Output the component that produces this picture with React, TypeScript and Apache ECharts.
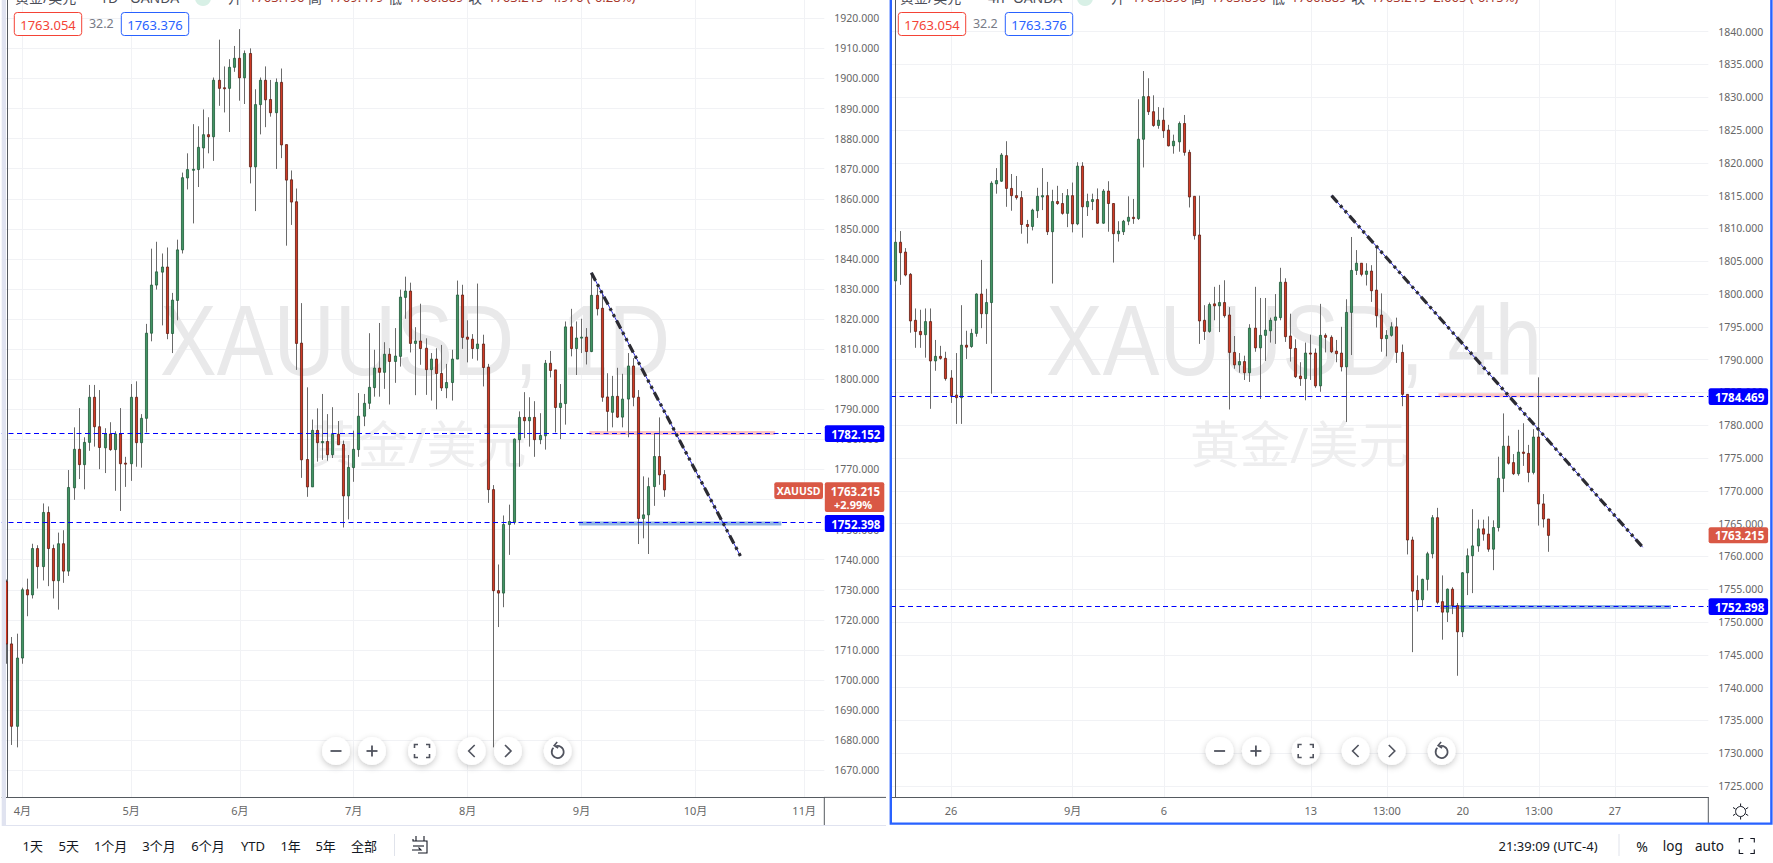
import React, { useEffect, useRef } from "react";
import * as echarts from "echarts";

// Daily candles: [open, close, low, high]
const dailyCandles: number[][] = [
[1732.7,1712.0,1705.4,1733.4],[1712.0,1684.6,1678.4,1714.3],[1684.6,1707.3,1677.6,1715.4],[1707.3,1730.0,1705.4,1730.7],[1730.0,1728.3,1721.2,1733.7],
[1728.3,1743.7,1727.1,1745.3],[1743.7,1737.7,1730.4,1744.8],[1737.7,1755.7,1733.1,1758.7],[1755.7,1743.7,1731.2,1757.7],[1743.7,1733.0,1727.1,1745.0],
[1733.0,1745.3,1723.4,1749.0],[1745.3,1736.2,1732.3,1749.8],[1736.2,1764.0,1734.6,1769.8],[1763.9,1776.7,1759.9,1784.0],[1776.7,1771.6,1766.8,1790.4],
[1771.6,1779.0,1763.4,1780.7],[1779.0,1794.0,1776.2,1798.1],[1794.0,1784.2,1777.6,1798.1],[1784.2,1777.3,1770.1,1796.4],[1777.2,1781.8,1768.8,1783.7],
[1781.8,1776.6,1776.2,1785.7],[1776.6,1781.8,1762.9,1782.7],[1781.8,1771.9,1756.2,1790.4],[1772.1,1771.9,1764.2,1774.2],[1771.9,1794.0,1766.2,1798.4],
[1794.0,1778.9,1770.9,1799.3],[1778.9,1787.0,1770.6,1788.4],[1787.0,1815.3,1782.3,1818.4],[1815.3,1831.3,1812.6,1843.4],[1831.3,1835.7,1829.8,1845.7],
[1835.6,1837.3,1817.9,1841.8],[1837.3,1815.2,1813.3,1843.8],[1815.2,1826.3,1808.7,1828.7],[1826.2,1843.0,1819.6,1846.4],[1843.0,1867.0,1841.8,1868.7],
[1866.9,1869.7,1863.1,1875.1],[1869.7,1869.8,1851.8,1884.8],[1869.7,1877.1,1863.9,1884.1],[1876.9,1881.3,1870.1,1889.7],[1881.3,1880.6,1875.1,1887.1],
[1880.6,1899.4,1872.6,1900.3],[1899.4,1896.7,1890.9,1912.9],[1896.9,1896.7,1888.7,1904.0],[1896.7,1903.7,1882.2,1906.4],[1903.7,1906.7,1902.2,1910.8],
[1906.7,1900.2,1892.6,1916.4],[1900.2,1908.3,1891.5,1909.3],[1908.3,1870.6,1865.1,1910.0],[1870.6,1891.3,1855.9,1896.4],[1891.3,1899.4,1881.4,1900.3],
[1899.4,1892.9,1883.8,1904.0],[1893.0,1888.6,1887.3,1899.5],[1888.6,1898.7,1869.9,1900.0],[1898.7,1877.9,1873.5,1903.3],[1878.0,1866.2,1844.4,1878.0],
[1866.3,1858.9,1851.3,1869.4],[1859.0,1811.9,1803.1,1863.4],[1812.0,1773.2,1767.2,1825.3],[1773.3,1764.2,1760.9,1797.3],[1764.2,1783.0,1764.2,1786.6],
[1783.0,1778.9,1772.6,1790.3],[1778.9,1779.3,1773.2,1795.1],[1779.3,1774.9,1772.9,1788.4],[1774.9,1781.7,1773.8,1790.7],[1781.7,1778.2,1778.2,1786.1],
[1778.3,1761.2,1750.7,1779.6],[1761.2,1770.7,1753.4,1774.8],[1770.6,1776.7,1765.9,1782.9],[1776.6,1787.7,1774.2,1795.4],[1787.7,1792.0,1784.4,1795.1],
[1792.0,1797.3,1790.1,1815.3],[1797.2,1803.7,1794.2,1809.8],[1803.7,1802.3,1794.2,1818.7],[1802.3,1808.3,1796.8,1812.3],[1808.3,1805.9,1791.6,1810.3],
[1805.9,1807.7,1798.8,1817.0],[1807.6,1827.3,1804.2,1829.8],[1827.2,1829.3,1820.1,1834.1],[1829.3,1811.9,1808.9,1832.1],[1811.9,1812.7,1794.7,1817.3],
[1812.7,1810.2,1804.8,1825.1],[1810.3,1803.2,1794.8,1813.6],[1803.2,1806.7,1792.9,1808.7],[1806.7,1801.9,1790.0,1810.3],[1801.9,1797.1,1796.1,1811.4],
[1797.1,1798.9,1793.7,1805.1],[1798.9,1806.7,1792.9,1809.8],[1806.7,1828.0,1806.7,1832.8],[1828.0,1813.9,1810.1,1831.4],[1814.0,1813.3,1805.6,1819.6],
[1813.3,1810.2,1806.8,1815.0],[1810.2,1811.7,1806.2,1831.8],[1811.7,1803.9,1797.6,1814.8],[1804.0,1763.3,1758.9,1805.1],[1763.3,1729.7,1677.6,1764.8],
[1729.7,1728.9,1717.6,1738.4],[1728.9,1751.7,1724.2,1754.7],[1751.7,1752.7,1741.6,1758.3],[1752.4,1780.1,1751.7,1780.3],[1779.9,1787.3,1770.9,1789.3],
[1787.3,1786.2,1780.4,1795.7],[1786.2,1787.3,1777.6,1794.0],[1787.3,1779.9,1774.2,1792.7],[1779.9,1781.3,1778.4,1788.7],[1781.2,1805.3,1776.6,1806.4],
[1805.3,1802.9,1800.6,1809.4],[1803.1,1790.6,1782.3,1803.1],[1790.6,1792.0,1780.1,1798.4],[1791.9,1817.4,1784.9,1819.2],[1817.4,1810.2,1807.6,1823.4],
[1810.2,1813.7,1801.4,1819.2],[1813.7,1814.0,1808.7,1820.1],[1814.0,1809.2,1804.9,1817.0],[1809.2,1827.9,1809.0,1835.3],[1827.9,1823.4,1821.2,1830.3],
[1823.6,1794.0,1792.5,1829.2],[1794.1,1789.3,1782.6,1802.0],[1789.0,1794.3,1784.0,1801.1],[1794.3,1787.4,1787.1,1803.8],[1787.4,1793.4,1784.0,1801.8],
[1793.4,1804.4,1780.7,1808.7],[1804.4,1794.0,1791.0,1807.0],[1794.0,1753.7,1745.2,1796.4],[1753.7,1754.9,1747.1,1767.7],[1754.9,1764.3,1741.9,1767.3],
[1764.3,1774.3,1757.9,1782.1],[1774.3,1768.2,1764.9,1787.3],[1768.3,1763.2,1760.9,1769.8],
];

// 4-hour candles: [open, close, low, high]
const fourHourCandles: number[][] = [
[1802.0,1807.9,1801.4,1809.5],[1807.9,1806.3,1801.4,1809.6],[1806.4,1802.9,1802.7,1807.0],[1803.0,1795.9,1794.1,1803.2],[1796.0,1794.3,1791.8,1797.8],
[1794.3,1793.8,1791.8,1797.6],[1793.8,1795.8,1790.3,1797.8],[1795.8,1789.8,1782.5,1797.8],[1789.8,1790.5,1788.3,1793.0],[1790.5,1790.2,1790.0,1792.1],
[1790.2,1787.1,1786.8,1791.2],[1787.2,1784.5,1783.4,1788.4],[1784.6,1784.2,1780.2,1791.0],[1784.2,1792.2,1780.2,1798.3],[1792.2,1791.9,1790.1,1794.4],
[1792.0,1794.0,1791.8,1794.7],[1794.0,1800.0,1793.5,1800.1],[1800.0,1797.0,1794.8,1805.2],[1797.0,1798.7,1792.4,1800.8],[1798.7,1816.9,1784.8,1817.2],
[1816.8,1817.3,1815.3,1819.2],[1817.2,1821.2,1817.1,1821.5],[1821.1,1816.1,1813.3,1823.3],[1816.1,1815.0,1812.7,1818.3],[1815.0,1814.7,1814.4,1818.0],
[1814.7,1810.6,1809.2,1815.7],[1810.6,1810.3,1807.7,1811.3],[1810.3,1812.8,1809.7,1813.0],[1812.7,1814.9,1811.6,1816.2],[1814.8,1815.0,1812.8,1819.2],
[1815.0,1809.5,1809.0,1817.1],[1809.5,1814.1,1801.6,1815.9],[1814.1,1813.8,1813.6,1816.5],[1813.8,1812.3,1812.1,1815.4],[1812.3,1815.0,1810.2,1816.0],
[1815.0,1810.7,1809.4,1817.0],[1810.7,1819.5,1810.5,1820.1],[1819.5,1813.3,1808.6,1820.1],[1813.3,1814.1,1811.9,1815.3],[1814.1,1814.4,1812.8,1815.3],
[1814.4,1810.8,1810.7,1816.1],[1810.8,1815.7,1810.7,1816.0],[1815.7,1813.8,1809.5,1817.2],[1813.8,1809.2,1804.8,1813.8],[1809.2,1809.6,1808.0,1811.1],
[1809.5,1811.1,1809.0,1811.3],[1811.1,1811.7,1810.5,1814.9],[1811.7,1811.5,1810.7,1814.5],[1811.5,1823.6,1811.3,1829.7],[1823.6,1830.1,1819.3,1834.0],
[1830.1,1827.8,1827.3,1832.9],[1827.8,1825.7,1825.5,1830.3],[1825.7,1826.5,1825.2,1828.5],[1826.5,1824.9,1823.8,1828.4],[1825.0,1822.6,1822.5,1825.8],
[1822.6,1823.3,1821.4,1824.3],[1823.2,1826.0,1821.7,1826.3],[1826.0,1821.6,1821.1,1827.3],[1821.6,1814.8,1813.2,1822.0],[1814.9,1808.9,1808.3,1814.9],
[1809.0,1795.9,1792.4,1815.0],[1796.0,1794.3,1793.0,1798.3],[1794.3,1798.4,1794.1,1798.7],[1798.5,1798.2,1796.0,1801.1],[1798.2,1798.7,1794.2,1801.4],
[1798.7,1796.7,1796.4,1802.1],[1796.8,1791.1,1782.4,1798.0],[1791.1,1789.2,1788.6,1793.6],[1789.2,1789.7,1788.0,1791.0],[1789.7,1788.0,1786.9,1790.6],
[1788.0,1794.8,1786.6,1795.4],[1794.8,1791.8,1791.2,1801.1],[1791.8,1793.7,1784.0,1799.4],[1793.7,1794.5,1789.8,1799.4],[1794.4,1796.0,1792.6,1796.4],
[1796.0,1796.5,1792.4,1800.0],[1796.4,1801.8,1796.0,1804.0],[1801.8,1793.5,1792.7,1802.4],[1793.6,1791.7,1789.7,1797.0],[1791.7,1787.4,1787.2,1793.1],
[1787.5,1787.1,1786.0,1789.6],[1787.1,1791.0,1783.8,1792.6],[1791.0,1790.9,1786.9,1793.8],[1791.0,1786.0,1785.7,1791.7],[1786.0,1793.7,1785.1,1798.5],
[1793.7,1793.4,1791.1,1794.0],[1793.4,1791.2,1791.0,1793.7],[1791.3,1790.9,1789.6,1793.0],[1791.0,1788.9,1788.2,1795.0],[1788.9,1797.2,1780.5,1799.2],
[1797.2,1803.6,1790.7,1808.7],[1803.6,1804.7,1802.9,1806.7],[1804.7,1803.0,1802.7,1804.7],[1803.0,1803.5,1801.3,1804.7],[1803.5,1800.5,1798.8,1804.4],
[1800.6,1796.7,1794.9,1806.9],[1796.8,1793.2,1791.2,1800.1],[1793.2,1793.7,1790.5,1794.5],[1793.7,1795.0,1793.5,1795.7],[1795.0,1791.1,1789.5,1796.4],
[1791.1,1784.7,1782.9,1792.3],[1784.7,1762.5,1760.3,1784.7],[1762.5,1754.7,1745.4,1763.0],[1754.8,1753.4,1751.6,1757.1],[1753.4,1756.5,1752.4,1756.6],
[1756.5,1760.4,1754.8,1760.7],[1760.4,1765.9,1759.7,1766.3],[1765.9,1753.0,1752.7,1767.4],[1753.1,1751.5,1747.3,1757.1],[1751.5,1755.0,1750.0,1755.1],
[1755.0,1752.5,1751.2,1755.3],[1752.5,1748.5,1741.8,1752.9],[1748.5,1757.5,1747.7,1757.6],[1757.5,1760.1,1754.1,1761.2],[1760.1,1761.6,1754.4,1767.2],
[1761.6,1764.2,1760.7,1765.6],[1764.2,1763.4,1762.4,1765.6],[1763.4,1761.1,1760.7,1766.1],[1761.1,1764.4,1757.9,1765.5],[1764.4,1771.9,1763.8,1775.2],
[1771.9,1776.8,1769.8,1781.8],[1776.8,1774.2,1774.0,1778.4],[1774.3,1772.6,1772.4,1775.6],[1772.6,1775.9,1772.3,1779.3],[1775.9,1775.7,1773.8,1780.3],
[1775.7,1772.8,1771.3,1777.0],[1772.8,1778.2,1772.5,1779.4],[1778.2,1768.0,1764.7,1787.3],[1768.0,1765.7,1764.4,1769.5],[1765.7,1763.2,1760.7,1765.7],
];

const dailyMonthTicks = [3, 24, 45, 67, 89, 111, 133, 154];
const dailyMonthLabels = ["4月", "5月", "6月", "7月", "8月", "9月", "10月", "11月"];
const fourHourTicks = [11, 35, 53, 82, 97, 112, 127, 142];
const fourHourLabels = ["26", "9月", "6", "13", "13:00", "20", "13:00", "27"];
const dailyPriceTicks = [1670,1680,1690,1700,1710,1720,1730,1740,1750,1760,1770,1780,1790,1800,1810,1820,1830,1840,1850,1860,1870,1880,1890,1900,1910,1920];
const fourHourPriceTicks = [1725,1730,1735,1740,1745,1750,1755,1760,1765,1770,1775,1780,1785,1790,1795,1800,1805,1810,1815,1820,1825,1830,1835,1840];

const dailyTrend = [[112.9, 1835.4], [141.7, 1741.2]];
const dailyResistance = [[112.5, 1782.15], [148.4, 1782.15]];
const dailySupport = [[110.5, 1752.0], [149.6, 1752.0]];
const dailyLevels = [1782.152, 1752.398];

const fourHourTrend = [[86.1, 1815.0], [147.5, 1761.4]];
const fourHourResistance = [[107.2, 1784.55], [148.6, 1784.55]];
const fourHourSupport = [[107.6, 1752.3], [153.1, 1752.3]];
const fourHourLevels = [1784.469, 1752.398];

const rangeLabels = ["1天", "5天", "1个月", "3个月", "6个月", "YTD", "1年", "5年", "全部"];
const rangeLabelX = [32.7, 68.8, 110.6, 159, 208, 253, 290.6, 325.6, 364];

const FONT = "'Noto Sans', 'Noto Sans CJK SC', sans-serif";
const UP = "#419463";
const UP_EDGE = "#1f5a3a";
const DOWN = "#cf3a24";
const DOWN_EDGE = "#5e1c12";
const WICK = "#6a6a6a";
const AXIS = "#555a60";
const ICON = "#50535e";

function txt(x: number, y: number, text: string, o: any = {}): any {
  const { scaleX, scaleY, z, ...style } = o;
  return {
    type: "text", x, y, scaleX: scaleX ?? 1, scaleY: scaleY ?? 1, z: z ?? 30, silent: true,
    style: { text, fontFamily: FONT, fontSize: 13, fill: "#131722", textAlign: "center", textVerticalAlign: "middle", ...style },
  };
}
function seg(x1: number, y1: number, x2: number, y2: number, stroke: string, lineWidth = 1, z = 30): any {
  return { type: "line", z, silent: true, shape: { x1, y1, x2, y2 }, style: { stroke, lineWidth } };
}
function poly(points: number[][], stroke = ICON, lineWidth = 1.6, z = 32): any {
  return { type: "polyline", z, silent: true, shape: { points }, style: { stroke, lineWidth, fill: "none" } };
}
function tag(x: number, y: number, w: number, h: number, fill: string, z = 28): any {
  return { type: "rect", z, silent: true, shape: { x, y, width: w, height: h, r: 2 }, style: { fill } };
}
function button(cx: number, cy: number): any {
  return {
    type: "circle", z: 31, silent: true, shape: { cx, cy, r: 14 },
    style: { fill: "#fff", shadowBlur: 6, shadowOffsetY: 2, shadowColor: "rgba(0,0,0,0.22)" },
  };
}
function corners(cx: number, cy: number, rx: number, ry: number, c: number): any[] {
  return [
    poly([[cx - rx, cy - ry + c], [cx - rx, cy - ry], [cx - rx + c, cy - ry]]),
    poly([[cx + rx - c, cy - ry], [cx + rx, cy - ry], [cx + rx, cy - ry + c]]),
    poly([[cx - rx, cy + ry - c], [cx - rx, cy + ry], [cx - rx + c, cy + ry]]),
    poly([[cx + rx - c, cy + ry], [cx + rx, cy + ry], [cx + rx, cy + ry - c]]),
  ];
}
function controls(xs: number[], y: number): any[] {
  const [a, b, c, d, e, f] = xs;
  return [
    ...xs.map((x) => button(x, y)),
    seg(a - 5.5, y, a + 5.5, y, ICON, 1.8, 32),
    seg(b - 5.5, y, b + 5.5, y, ICON, 1.8, 32),
    seg(b, y - 5.5, b, y + 5.5, ICON, 1.8, 32),
    ...corners(c, y, 7.5, 6.5, 3.5),
    poly([[d + 3, y - 6], [d - 3, y], [d + 3, y + 6]]),
    poly([[e - 3, y - 6], [e + 3, y], [e - 3, y + 6]]),
    { type: "arc", z: 32, silent: true, shape: { cx: f, cy: y + 1, r: 6, startAngle: -Math.PI / 2 - 0.4, endAngle: Math.PI * 1.25, clockwise: true }, style: { stroke: ICON, lineWidth: 1.7, fill: "none" } },
    poly([[f - 0.5, y - 9], [f - 3.5, y - 5.5], [f + 0.5, y - 3]]),
  ];
}
function header(x: number, res: string, resX: number, oandaX: number, dotX: number, openX: number, o: string, h: string, l: string, c: string, chg: string): any[] {
  const red = "#a8382c";
  const grey = "#4a4d57";
  const left = { textAlign: "left", fontSize: 14, fill: grey };
  const val = { textAlign: "left", fontSize: 13, fill: red };
  return [
    txt(x, -3, "黄金/美元", left),
    txt(resX, -3, res, left),
    txt(oandaX, -3, "OANDA", left),
    { type: "circle", z: 30, silent: true, shape: { cx: dotX, cy: -2, r: 8 }, style: { fill: "#d8f0e6" } },
    txt(openX, -3, "开", left),
    txt(openX + 21, -3, o, val),
    txt(openX + 80, -3, "高", left),
    txt(openX + 100, -3, h, val),
    txt(openX + 160, -3, "低", left),
    txt(openX + 180, -3, l, val),
    txt(openX + 240, -3, "收", left),
    txt(openX + 260, -3, c, val),
    txt(openX + 318, -3, chg, val),
  ];
}
function bidAsk(x: number): any[] {
  return [
    { type: "rect", z: 30, silent: true, shape: { x, y: 12.5, width: 67.4, height: 23, r: 3 }, style: { fill: "#fff", stroke: "#f44336", lineWidth: 1 } },
    txt(x + 33.7, 24.5, "1763.054", { fill: "#f44336", fontSize: 13 }),
    txt(x + 87, 23.5, "32.2", { fill: "#787b86", fontSize: 12.5 }),
    { type: "rect", z: 30, silent: true, shape: { x: x + 107, y: 12.5, width: 67.4, height: 23, r: 3 }, style: { fill: "#fff", stroke: "#2962ff", lineWidth: 1 } },
    txt(x + 140.7, 24.5, "1763.376", { fill: "#2962ff", fontSize: 13 }),
  ];
}
function priceTag(x: number, top: number, h: number, text: string, fill: string): any[] {
  return [
    tag(x, top, 59.5, h, fill),
    txt(x + 31, top + h / 2 + 0.5, text, { fill: "#fff", fontSize: 11.5, fontWeight: "bold", z: 29 }),
  ];
}

const graphics: any[] = [
  // watermarks (below the candles)
  txt(160, 341, "XAUUSD, 1D", { textAlign: "left", fontFamily: "'Liberation Sans'", fontSize: 100, fill: "#e9e9ea", scaleX: 0.85, z: 1 }),
  txt(1046, 341, "XAUUSD, 4h", { textAlign: "left", fontFamily: "'Liberation Sans'", fontSize: 100, fill: "#e9e9ea", scaleX: 0.85, z: 1 }),
  txt(308, 444, "黄金/美元", { textAlign: "left", fontSize: 50, fill: "#eeeeef", z: 1 }),
  txt(1190, 444, "黄金/美元", { textAlign: "left", fontSize: 50, fill: "#eeeeef", z: 1 }),

  ...header(15, "1D", 100, 130, 203, 228, "1763.196", "1769.479", "1760.889", "1763.215", "-4.976 (-0.28%)"),
  ...header(900, "4h", 988, 1013, 1085, 1111, "1763.890", "1763.890", "1760.889", "1763.215", "-2.665 (-0.15%)"),
  ...bidAsk(14.3),
  ...bidAsk(898.3),

  // panes, frames
  { type: "rect", z: 40, silent: true, shape: { x: 0, y: 0, width: 1.7, height: 825 }, style: { fill: "#fff" } },
  { type: "rect", z: 40, silent: true, shape: { x: 1.7, y: 0, width: 4.3, height: 826 }, style: { fill: "#e0e3f0" } },
  seg(6, 825.5, 886, 825.5, "#e0e3f0", 1.2, 26),
  seg(824.3, 797, 824.3, 825, AXIS, 1, 26),
  seg(824, 797.4, 888, 797.4, AXIS, 1, 26),
  seg(1708.3, 797, 1708.3, 824, AXIS, 1, 26),
  { type: "rect", z: 41, silent: true, shape: { x: 886, y: -6, width: 4, height: 832 }, style: { fill: "#fff" } },
  { type: "rect", z: 42, silent: true, shape: { x: 890.8, y: -6, width: 880.6, height: 829.6 }, style: { fill: "none", stroke: "#2962ff", lineWidth: 2.4 } },

  // price tags
  ...priceTag(824.8, 425.3, 16.7, "1782.152", "#0000ff"),
  ...priceTag(824.8, 515, 17, "1752.398", "#0000ff"),
  tag(824.8, 482.3, 59.5, 29.7, "#d95845"),
  txt(855.5, 491.5, "1763.215", { fill: "#fff", fontSize: 11.5, fontWeight: "bold", z: 29 }),
  txt(834, 504, "+2.99%", { fill: "#fff", fontSize: 11, fontWeight: "bold", textAlign: "left", z: 29 }),
  tag(774.3, 482.3, 48.7, 16.7, "#d95845"),
  txt(798.6, 491, "XAUUSD", { fill: "#fff", fontSize: 10.5, fontWeight: "bold", z: 29 }),
  ...priceTag(1708.6, 388.3, 16.7, "1784.469", "#0000ff"),
  ...priceTag(1708.6, 527.3, 16, "1763.215", "#d95845"),
  ...priceTag(1708.6, 598.3, 16.7, "1752.398", "#0000ff"),

  // pane controls
  ...controls([336, 372, 422, 471.7, 508, 557.7], 751),
  ...controls([1219.6, 1255.9, 1305.7, 1355.6, 1391.8, 1441.6], 751),

  // settings icon
  { type: "circle", z: 32, silent: true, shape: { cx: 1740.6, cy: 811.5, r: 5 }, style: { fill: "#fff", stroke: "#131722", lineWidth: 1 } },
  seg(1740.6, 803.5, 1740.6, 806, "#131722", 1, 32),
  seg(1740.6, 817, 1740.6, 819.5, "#131722", 1, 32),
  seg(1733, 807.5, 1735.5, 809, "#131722", 1, 32),
  seg(1748.2, 807.5, 1745.7, 809, "#131722", 1, 32),
  seg(1733, 815.5, 1735.5, 814, "#131722", 1, 32),
  seg(1748.2, 815.5, 1745.7, 814, "#131722", 1, 32),

  // bottom toolbar
  ...rangeLabels.map((s, i) => txt(rangeLabelX[i], 846, s, { fontSize: 13 })),
  seg(394.5, 834, 394.5, 856, "#e0e3eb", 1, 30),
  poly([[413, 839], [413, 841], [427, 841], [427, 853], [418, 853]], "#131722", 1.1),
  poly([[416, 836], [416, 841]], "#131722", 1.1),
  poly([[424, 836], [424, 841]], "#131722", 1.1),
  poly([[413, 846], [424, 846]], "#131722", 1.1),
  poly([[412, 850], [421, 850], [418.5, 847.5]], "#131722", 1.1),
  txt(1548, 846, "21:39:09 (UTC-4)", { fontSize: 13 }),
  seg(1619, 834, 1619, 856, "#e0e3eb", 1, 30),
  txt(1642, 846, "%", { fontSize: 14 }),
  txt(1672.7, 846, "log", { fontSize: 13.5 }),
  txt(1709.5, 846, "auto", { fontSize: 13.5 }),
  ...corners(1746.8, 846, 7.5, 7.5, 4).map((e) => ({ ...e, style: { ...e.style, stroke: "#131722", lineWidth: 1.1 } })),
];

const lineOf = (data: number[][], ax: number, color: string, width: number, type: any = "solid", z = 4) => ({
  type: "line", xAxisIndex: ax, yAxisIndex: ax, data, symbol: "none", silent: true, z,
  lineStyle: { color, width, type }, animation: false,
});

// Wick and body have separate colours, which the built-in candlestick cannot do,
// so each candle is drawn by a custom series through the axes' own scales.
function renderCandle(_: any, api: any): any {
  const i = api.value(0);
  const open = api.value(1);
  const close = api.value(2);
  const top = api.coord([i, Math.max(open, close)]);
  const bottom = api.coord([i, Math.min(open, close)]);
  const low = api.coord([i, api.value(3)]);
  const high = api.coord([i, api.value(4)]);
  const up = close >= open;
  const x = Math.round(top[0] - 0.5) + 0.5;
  return {
    type: "group",
    children: [
      { type: "line", shape: { x1: x, y1: high[1], x2: x, y2: low[1] }, style: { stroke: WICK, lineWidth: 1 } },
      {
        type: "rect",
        shape: { x: x - 1.05, y: top[1], width: 2.1, height: Math.max(bottom[1] - top[1], 1) },
        style: { fill: up ? UP : DOWN, stroke: up ? UP_EDGE : DOWN_EDGE, lineWidth: 0.8 },
      },
    ],
  };
}

function candles(rows: number[][], ax: number, levels: number[]) {
  return {
    type: "custom", xAxisIndex: ax, yAxisIndex: ax, z: 3, silent: true, clip: true,
    renderItem: renderCandle,
    encode: { x: 0, y: [1, 2, 3, 4] },
    data: rows.map((r, i) => [i, r[0], r[1], r[2], r[3]]),
    markLine: {
      silent: true, symbol: "none", z: 6, animation: false, label: { show: false },
      lineStyle: { color: "#0000ff", width: 1, type: [5, 3.5] },
      data: levels.map((yAxis) => ({ yAxis })),
    },
  };
}

function xAxis(ax: number, min: number, max: number, ticks: number[], labels: string[]) {
  return {
    type: "value", gridIndex: ax, min, max, position: "bottom",
    axisLine: { show: true, onZero: false, lineStyle: { color: AXIS, width: 1 } },
    axisTick: { show: false, customValues: ticks },
    axisLabel: {
      customValues: ticks, margin: 8, color: "#666", fontFamily: FONT, fontSize: 11,
      formatter: (v: number) => labels[ticks.indexOf(v)] ?? "",
    },
    splitLine: { show: true, lineStyle: { color: "#f1f2f5", width: 1 } },
  };
}
function yAxis(ax: number, min: number, max: number, ticks: number[]) {
  return {
    type: "value", gridIndex: ax, min, max, position: "right", scale: true,
    axisLine: { show: true, lineStyle: { color: AXIS, width: 1 } },
    axisTick: { show: false, customValues: ticks },
    axisLabel: {
      customValues: ticks, margin: 10, color: "#666", fontFamily: FONT, fontSize: 10.5,
      formatter: (v: number) => v.toFixed(3),
    },
    splitLine: { show: true, lineStyle: { color: "#f1f2f5", width: 1 } },
  };
}

const option: any = {
  animation: false,
  backgroundColor: "#ffffff",
  grid: [
    { left: 0, top: 0, width: 824.3, height: 797.3 },
    { left: 891, top: 0, width: 817.3, height: 797.3 },
  ],
  xAxis: [
    xAxis(0, -1.308, 157.89, dailyMonthTicks, dailyMonthLabels),
    xAxis(1, -0.849, 160.45, fourHourTicks, fourHourLabels),
  ],
  yAxis: [
    yAxis(0, 1661.0, 1926.08, dailyPriceTicks),
    yAxis(1, 1723.27, 1844.83, fourHourPriceTicks),
  ],
  series: [
    candles(dailyCandles, 0, dailyLevels),
    lineOf(dailyResistance, 0, "#fbc4c4", 4, "solid", 2),
    lineOf(dailySupport, 0, "#8fb4e3", 4, "solid", 2),
    lineOf(dailyTrend, 0, "#2a2ad8", 1, "solid", 7),
    lineOf(dailyTrend, 0, "#2b2b33", 3.2, [9, 4, 3, 4, 3, 4], 8),
    candles(fourHourCandles, 1, fourHourLevels),
    lineOf(fourHourResistance, 1, "#fbc4c4", 4, "solid", 2),
    lineOf(fourHourSupport, 1, "#8fb4e3", 4, "solid", 2),
    lineOf(fourHourTrend, 1, "#2a2ad8", 1, "solid", 7),
    lineOf(fourHourTrend, 1, "#2b2b33", 3.2, [9, 4, 3, 4, 3, 4], 8),
  ],
  graphic: graphics,
};

export default function App() {
  const ref = useRef<HTMLDivElement>(null);
  useEffect(() => {
    const chart = echarts.init(ref.current!, undefined, { renderer: "svg" });
    chart.setOption(option);
    return () => chart.dispose();
  }, []);
  return <div ref={ref} style={{ position: "fixed", left: 0, top: 0, width: 1773, height: 863, background: "#fff" }} />;
}
